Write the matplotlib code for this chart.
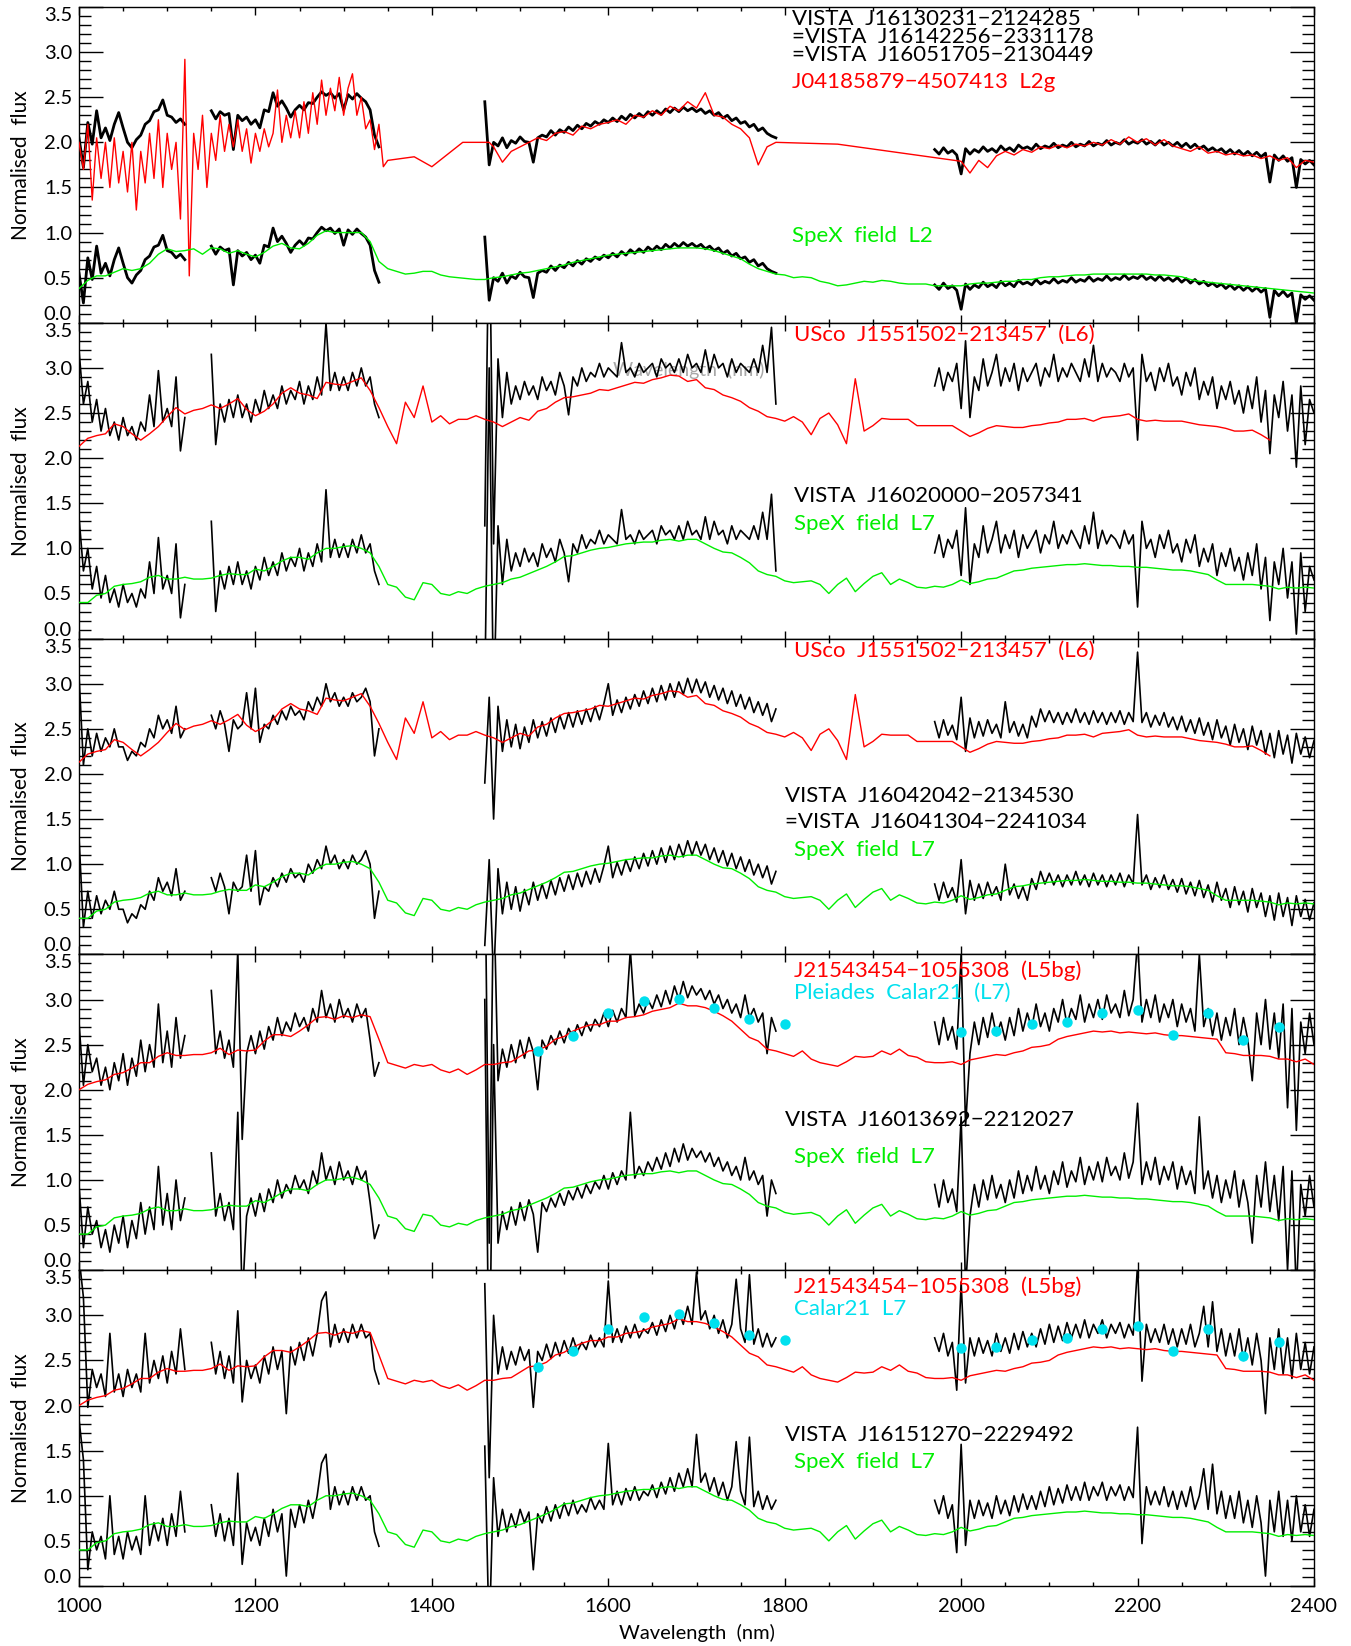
#!/usr/bin/env python3
"""
Near-IR spectra of VISTA L-dwarf candidates compared with field (SpeX)
and young (USco, Pleiades) templates. Five stacked panels; every VISTA
spectrum is drawn twice, once raw and once shifted up to sit on the
upper template.
"""

import numpy as np
import matplotlib.pyplot as plt
from matplotlib.ticker import MultipleLocator

plt.rcParams['font.family'] = ['Lato', 'DejaVu Sans']
plt.rcParams['font.weight'] = 400

RED = '#FF0000'
GREEN = '#00EE00'
CYAN = '#00E0EE'

# =============================================================================
# Data
# =============================================================================

# VISTA spectra (lower copy), 5 nm sampling, one list per band
BAND_STARTS = [1000, 1150, 1460, 1970]

vista1_j1 = [0.55, 0.22, 0.72, 0.48, 0.85, 0.55, 0.66, 0.52, 0.70, 0.83, 0.66, 0.50, 0.44,
             0.53, 0.58, 0.70, 0.74, 0.84, 0.86, 0.97, 0.80, 0.78, 0.72, 0.76, 0.70]
vista1_j2 = [0.85, 0.76, 0.84, 0.80, 0.82, 0.42, 0.80, 0.74, 0.78, 0.70,
             0.75, 0.66, 0.86, 0.84, 1.05, 0.90, 0.96, 0.88, 0.78, 0.86,
             0.91, 0.86, 0.94, 0.93, 1.00, 1.06, 1.02, 1.05, 0.99, 1.04,
             0.86, 1.03, 0.98, 1.04, 0.99, 0.95, 0.86, 0.58, 0.45]
vista1_h = [0.95, 0.25, 0.50, 0.46, 0.55, 0.44, 0.52, 0.49, 0.56, 0.51,
            0.50, 0.28, 0.55, 0.58, 0.56, 0.63, 0.58, 0.64, 0.61, 0.67,
            0.63, 0.69, 0.65, 0.71, 0.68, 0.73, 0.70, 0.75, 0.72, 0.77,
            0.73, 0.79, 0.75, 0.81, 0.77, 0.82, 0.78, 0.84, 0.80, 0.85,
            0.81, 0.87, 0.83, 0.88, 0.84, 0.89, 0.85, 0.88, 0.84, 0.87,
            0.82, 0.85, 0.80, 0.83, 0.77, 0.80, 0.74, 0.77, 0.71, 0.73,
            0.67, 0.70, 0.63, 0.66, 0.60, 0.57, 0.55]
vista1_k = [0.42, 0.37, 0.44, 0.38, 0.41, 0.36, 0.15, 0.43, 0.37, 0.42,
            0.39, 0.45, 0.40, 0.43, 0.39, 0.46, 0.41, 0.44, 0.40, 0.47,
            0.43, 0.45, 0.42, 0.48, 0.43, 0.46, 0.44, 0.49, 0.44, 0.47,
            0.45, 0.50, 0.45, 0.48, 0.46, 0.51, 0.46, 0.49, 0.47, 0.52,
            0.47, 0.50, 0.48, 0.53, 0.48, 0.51, 0.49, 0.53, 0.48, 0.51,
            0.47, 0.52, 0.47, 0.50, 0.46, 0.50, 0.45, 0.49, 0.44, 0.48,
            0.43, 0.46, 0.41, 0.44, 0.40, 0.43, 0.38, 0.42, 0.37, 0.41,
            0.36, 0.40, 0.35, 0.39, 0.34, 0.38, 0.06, 0.36, 0.30, 0.35,
            0.29, 0.33, 0.00, 0.31, 0.26, 0.30, 0.25]

vista2_j1 = [1.35, 0.75, 1.00, 0.55, 0.80, 0.45, 0.70, 0.40, 0.55, 0.35, 0.60, 0.40, 0.50,
             0.35, 0.55, 0.45, 0.85, 0.50, 1.12, 0.55, 0.70, 0.50, 1.05, 0.23, 0.60]
vista2_j2 = [1.30, 0.30, 0.75, 0.55, 0.80, 0.60, 0.85, 0.60, 0.75, 0.55,
             0.80, 0.65, 0.90, 0.70, 0.85, 0.70, 0.95, 0.75, 0.90, 0.80,
             1.00, 0.75, 0.95, 0.80, 1.05, 0.85, 1.65, 0.90, 1.10, 0.90,
             1.05, 0.90, 1.10, 0.95, 1.15, 0.95, 1.05, 0.75, 0.60]
vista2_h = [-0.60, 3.00, -0.80, 1.25, 0.60, 1.10, 0.75, 0.95, 0.80, 1.00,
            0.85, 0.95, 0.80, 1.05, 0.90, 1.00, 0.85, 1.10, 0.95, 0.63,
            1.05, 0.95, 1.15, 1.00, 1.10, 1.05, 1.20, 1.05, 1.15, 1.10,
            1.05, 1.43, 1.10, 1.15, 1.05, 1.20, 1.10, 1.15, 1.20, 1.05,
            1.25, 1.15, 1.20, 1.10, 1.25, 1.10, 1.30, 1.15, 1.20, 1.10,
            1.35, 1.10, 1.30, 1.15, 1.20, 1.05, 1.25, 1.10, 1.20, 1.15,
            1.10, 1.25, 1.10, 1.40, 1.10, 1.60, 0.75]
vista2_k = [0.95, 1.15, 0.90, 1.10, 1.00, 1.20, 0.70, 1.45, 0.60, 1.05,
            0.90, 1.25, 0.95, 1.10, 1.30, 0.95, 1.15, 1.00, 1.20, 0.90,
            1.15, 1.00, 1.10, 1.20, 0.95, 1.15, 1.05, 1.30, 1.00, 1.15,
            1.05, 1.20, 1.10, 1.00, 1.25, 1.05, 1.40, 1.00, 1.20, 1.05,
            1.15, 1.10, 1.00, 1.20, 1.05, 1.15, 0.35, 1.30, 1.00, 1.10,
            0.90, 1.15, 1.00, 1.20, 0.95, 1.05, 0.85, 1.10, 0.95, 1.15,
            0.80, 1.00, 0.85, 1.05, 0.70, 0.95, 0.80, 1.00, 0.75, 0.90,
            0.65, 0.95, 0.70, 1.05, 0.55, 0.90, 0.20, 0.85, 0.60, 1.00,
            0.45, 0.85, 0.05, 0.95, 0.30, 0.80, 0.65]

vista3_j1 = [1.30, 0.30, 0.70, 0.40, 0.65, 0.45, 0.60, 0.50, 0.70, 0.50, 0.50, 0.35, 0.45,
             0.40, 0.55, 0.50, 0.70, 0.60, 0.85, 0.70, 0.80, 0.65, 0.95, 0.60, 0.70]
vista3_j2 = [0.85, 0.70, 0.90, 0.75, 0.45, 0.80, 0.70, 0.75, 1.10, 0.70,
             1.15, 0.55, 0.75, 0.70, 0.85, 0.75, 0.90, 0.80, 0.95, 0.85,
             0.90, 0.80, 1.00, 0.90, 1.05, 0.95, 1.20, 1.00, 1.10, 0.95,
             1.05, 0.95, 1.10, 1.00, 1.05, 1.15, 1.00, 0.40, 0.70]
vista3_h = [0.10, 1.05, -0.30, 0.95, 0.45, 0.80, 0.50, 0.75, 0.48, 0.72,
            0.55, 0.80, 0.60, 0.78, 0.62, 0.82, 0.66, 0.85, 0.70, 0.88,
            0.72, 0.90, 0.75, 0.92, 0.78, 0.95, 0.80, 0.98, 1.20, 0.85,
            1.02, 0.88, 1.05, 0.92, 1.08, 0.95, 1.12, 0.98, 1.15, 1.00,
            1.18, 1.02, 1.20, 1.05, 1.22, 1.08, 1.26, 1.10, 1.25, 1.10,
            1.22, 1.05, 1.18, 1.02, 1.15, 0.98, 1.12, 0.95, 1.08, 0.92,
            1.05, 0.88, 1.00, 0.85, 0.98, 0.78, 0.92]
vista3_k = [0.78, 0.60, 0.80, 0.63, 0.74, 0.58, 1.05, 0.45, 0.82, 0.60,
            0.78, 0.62, 0.80, 0.65, 0.75, 0.60, 1.00, 0.66, 0.78, 0.62,
            0.75, 0.60, 0.84, 0.72, 0.92, 0.78, 0.90, 0.77, 0.88, 0.75,
            0.88, 0.77, 0.92, 0.77, 0.88, 0.75, 0.90, 0.77, 0.88, 0.75,
            0.88, 0.77, 0.90, 0.75, 0.88, 0.78, 1.55, 0.77, 0.88, 0.72,
            0.85, 0.74, 0.88, 0.72, 0.83, 0.69, 0.84, 0.67, 0.80, 0.65,
            0.82, 0.63, 0.77, 0.58, 0.80, 0.60, 0.73, 0.52, 0.75, 0.55,
            0.70, 0.47, 0.73, 0.52, 0.68, 0.42, 0.65, 0.38, 0.68, 0.42,
            0.63, 0.32, 0.65, 0.42, 0.61, 0.38, 0.57]

vista4_j1 = [0.95, 0.25, 0.70, 0.40, 0.55, 0.25, 0.45, 0.20, 0.50, 0.30, 0.60, 0.25, 0.55,
             0.35, 0.75, 0.40, 0.70, 0.45, 1.15, 0.50, 0.85, 0.45, 1.00, 0.55, 0.80]
vista4_j2 = [1.30, 0.60, 0.85, 0.55, 0.75, 0.45, 1.75, -0.35, 0.60, 0.80,
             0.60, 0.85, 0.65, 0.90, 0.75, 1.00, 0.80, 0.95, 0.85, 1.05,
             0.90, 1.00, 0.85, 1.10, 0.95, 1.30, 1.00, 1.15, 0.95, 1.20,
             1.00, 1.10, 0.95, 1.15, 1.00, 1.10, 0.75, 0.35, 0.50]
vista4_h = [3.00, -1.50, 2.50, 0.30, 0.65, 0.45, 0.70, 0.50, 0.75, 0.55,
            0.78, 0.62, 0.20, 0.75, 0.65, 0.80, 0.70, 0.85, 0.72, 0.88,
            0.78, 0.92, 0.80, 0.95, 0.85, 0.98, 0.90, 1.05, 0.90, 1.08,
            0.95, 1.10, 1.00, 1.75, 1.02, 1.15, 1.05, 1.20, 1.10, 1.25,
            1.12, 1.30, 1.15, 1.35, 1.20, 1.40, 1.22, 1.35, 1.25, 1.32,
            1.20, 1.30, 1.15, 1.25, 1.10, 1.20, 1.05, 1.15, 1.00, 1.25,
            1.00, 1.10, 0.95, 1.05, 0.60, 1.00, 0.85]
vista4_k = [0.95, 0.70, 1.00, 0.75, 0.90, 0.65, 1.70, -0.20, 0.60, 0.95,
            0.70, 1.00, 0.78, 1.05, 0.80, 0.95, 0.75, 1.00, 0.80, 1.10,
            0.85, 1.05, 0.88, 1.15, 0.90, 1.05, 0.85, 1.10, 0.95, 1.20,
            0.92, 1.10, 0.98, 1.25, 0.95, 1.15, 1.00, 1.20, 0.98, 1.25,
            1.05, 1.15, 1.00, 1.30, 1.02, 1.20, 1.85, 0.95, 1.20, 1.00,
            1.25, 0.95, 1.15, 1.00, 1.20, 0.90, 1.15, 0.95, 1.10, 0.85,
            1.70, 0.90, 1.10, 0.80, 1.05, 0.75, 1.00, 0.80, 1.10, 0.70,
            1.00, 0.75, 0.30, 1.05, 0.70, 1.20, 0.65, 1.05, 0.55, 1.15,
            0.00, 1.10, -0.25, 0.95, 0.60, 1.05, 0.70]

vista5_j1 = [1.85, 1.40, 0.18, 0.60, 0.40, 0.55, 0.30, 1.00, 0.35, 0.55, 0.30, 0.60, 0.40,
             0.55, 0.35, 1.00, 0.45, 0.70, 0.50, 0.75, 0.45, 0.80, 0.55, 1.05, 0.60]
vista5_j2 = [0.90, 0.55, 0.80, 0.50, 0.75, 0.45, 1.25, 0.24, 0.70, 0.50,
             0.65, 0.45, 0.75, 0.55, 0.85, 0.60, 0.80, 0.11, 0.85, 0.65,
             0.90, 0.70, 0.95, 0.75, 1.00, 1.36, 1.46, 0.85, 1.10, 0.90,
             1.05, 0.90, 1.10, 0.95, 1.10, 0.95, 1.00, 0.60, 0.44]
vista5_h = [1.55, -0.60, 1.20, 0.55, 0.85, 0.60, 0.80, 0.65, 0.85, 0.70,
            0.82, 0.18, 0.80, 0.70, 0.88, 0.72, 0.90, 0.75, 0.92, 0.78,
            0.95, 0.80, 0.90, 0.82, 0.98, 0.85, 0.95, 0.85, 1.58, 0.90,
            1.05, 0.90, 1.08, 0.95, 1.10, 0.95, 1.05, 1.00, 1.12, 0.98,
            1.15, 1.02, 1.20, 1.05, 1.25, 1.10, 1.30, 1.10, 1.68, 1.15,
            1.25, 1.05, 1.20, 1.00, 1.15, 0.95, 1.10, 1.60, 1.05, 0.90,
            1.65, 0.88, 1.05, 0.85, 1.00, 0.85, 0.95]
vista5_k = [0.95, 0.80, 1.00, 0.75, 0.90, 0.37, 1.57, 0.45, 0.95, 0.75,
            0.95, 0.78, 0.92, 0.75, 1.00, 0.80, 0.95, 0.78, 1.00, 0.82,
            1.02, 0.85, 1.00, 0.85, 1.05, 0.88, 1.10, 0.90, 1.08, 0.92,
            1.12, 0.95, 1.10, 0.95, 1.15, 0.95, 1.10, 1.00, 1.15, 0.95,
            1.10, 1.00, 1.12, 0.95, 1.10, 0.98, 1.76, 0.47, 1.10, 0.90,
            1.05, 0.90, 1.10, 0.88, 1.05, 0.85, 1.05, 0.88, 1.10, 0.85,
            1.00, 1.30, 0.85, 1.35, 0.80, 1.05, 0.75, 1.00, 0.75, 1.05,
            0.70, 0.95, 0.65, 1.00, 0.70, 0.11, 0.95, 0.60, 1.05, 0.55,
            0.95, 0.50, 1.00, 0.60, 0.90, 0.55, 0.85]

# Vertical shift of the upper copy of each VISTA spectrum
vista_offsets = [1.5, 1.85, 1.8, 1.8, 1.8]

# Templates on a 10 nm grid starting at 1000 nm
spex_l2 = [0.38, 0.47, 0.52, 0.52, 0.56, 0.60, 0.58, 0.60, 0.66, 0.76, 0.82, 0.79, 0.80, 0.82,
           0.76, 0.83, 0.82, 0.77, 0.80, 0.76, 0.73, 0.78, 0.85, 0.88, 0.83, 0.82, 0.88, 0.97,
           1.02, 1.00, 1.00, 1.00, 1.00, 0.90, 0.68, 0.60, 0.57, 0.54, 0.55, 0.57, 0.57, 0.53,
           0.51, 0.50, 0.49, 0.48, 0.48, 0.50, 0.51, 0.53, 0.55, 0.56, 0.58, 0.60, 0.62, 0.64,
           0.67, 0.69, 0.71, 0.73, 0.75, 0.76, 0.77, 0.78, 0.79, 0.80, 0.81, 0.82, 0.83, 0.83,
           0.83, 0.82, 0.80, 0.77, 0.74, 0.71, 0.65, 0.60, 0.57, 0.54, 0.53, 0.50, 0.51, 0.50,
           0.46, 0.44, 0.41, 0.42, 0.44, 0.46, 0.45, 0.47, 0.46, 0.44, 0.43, 0.43, 0.43, 0.41,
           0.41, 0.41, 0.41, 0.43, 0.44, 0.44, 0.45, 0.46, 0.46, 0.48, 0.48, 0.50, 0.51, 0.51,
           0.52, 0.53, 0.53, 0.54, 0.54, 0.54, 0.54, 0.54, 0.54, 0.54, 0.53, 0.53, 0.52, 0.51,
           0.48, 0.46, 0.45, 0.44, 0.43, 0.42, 0.41, 0.40, 0.39, 0.38, 0.37, 0.36, 0.35, 0.34,
           0.33]

spex_l7 = [0.40, 0.40, 0.48, 0.50, 0.58, 0.60, 0.61, 0.63, 0.68, 0.70, 0.66, 0.66, 0.68, 0.66,
           0.66, 0.67, 0.70, 0.72, 0.71, 0.71, 0.77, 0.75, 0.80, 0.86, 0.90, 0.90, 0.88, 0.95,
           1.00, 1.00, 1.02, 1.03, 1.00, 0.95, 0.80, 0.60, 0.57, 0.46, 0.43, 0.62, 0.60, 0.50,
           0.48, 0.52, 0.50, 0.55, 0.58, 0.60, 0.62, 0.66, 0.68, 0.72, 0.76, 0.80, 0.85, 0.91,
           0.92, 0.95, 0.98, 1.00, 1.01, 1.03, 1.05, 1.06, 1.07, 1.07, 1.09, 1.10, 1.08, 1.10,
           1.10, 1.05, 1.00, 0.96, 0.95, 0.90, 0.84, 0.75, 0.71, 0.69, 0.64, 0.62, 0.63, 0.64,
           0.60, 0.50, 0.60, 0.67, 0.52, 0.61, 0.69, 0.73, 0.60, 0.66, 0.62, 0.57, 0.56, 0.58,
           0.57, 0.60, 0.65, 0.61, 0.63, 0.66, 0.67, 0.71, 0.75, 0.76, 0.78, 0.79, 0.80, 0.81,
           0.82, 0.82, 0.83, 0.82, 0.81, 0.81, 0.80, 0.80, 0.79, 0.79, 0.78, 0.77, 0.76, 0.76,
           0.75, 0.73, 0.71, 0.65, 0.60, 0.60, 0.60, 0.60, 0.59, 0.58, 0.55, 0.57, 0.56, 0.57,
           0.56]

usco_l6 = [2.13, 2.22, 2.25, 2.27, 2.38, 2.35, 2.27, 2.20, 2.27, 2.35, 2.46, 2.56, 2.49, 2.53,
           2.55, 2.59, 2.55, 2.60, 2.66, 2.54, 2.47, 2.52, 2.60, 2.72, 2.78, 2.72, 2.70, 2.66,
           2.84, 2.82, 2.81, 2.85, 2.89, 2.75, 2.56, 2.35, 2.16, 2.62, 2.45, 2.80, 2.40, 2.47,
           2.38, 2.43, 2.43, 2.47, 2.43, 2.40, 2.35, 2.40, 2.45, 2.42, 2.52, 2.55, 2.62, 2.67,
           2.68, 2.70, 2.72, 2.76, 2.75, 2.78, 2.81, 2.84, 2.83, 2.87, 2.89, 2.92, 2.91, 2.85,
           2.87, 2.78, 2.76, 2.70, 2.67, 2.63, 2.56, 2.52, 2.46, 2.44, 2.41, 2.46, 2.40, 2.26,
           2.44, 2.50, 2.37, 2.16, 2.88, 2.30, 2.36, 2.44, 2.43, 2.43, 2.43, 2.36, 2.36, 2.36,
           2.36, 2.36, 2.30, 2.24, 2.28, 2.33, 2.36, 2.35, 2.34, 2.34, 2.36, 2.37, 2.39, 2.40,
           2.43, 2.43, 2.44, 2.41, 2.45, 2.46, 2.47, 2.49, 2.43, 2.41, 2.42, 2.41, 2.41, 2.41,
           2.39, 2.37, 2.36, 2.35, 2.33, 2.30, 2.30, 2.31, 2.26, 2.20]

j2154_l5bg = [2.00, 2.06, 2.09, 2.11, 2.17, 2.19, 2.24, 2.30, 2.30, 2.37, 2.41, 2.38, 2.38, 2.39,
              2.39, 2.41, 2.46, 2.39, 2.44, 2.43, 2.44, 2.54, 2.61, 2.61, 2.59, 2.65, 2.72, 2.80,
              2.81, 2.78, 2.82, 2.80, 2.83, 2.81, 2.56, 2.30, 2.27, 2.24, 2.28, 2.26, 2.28, 2.22,
              2.19, 2.23, 2.17, 2.22, 2.28, 2.28, 2.30, 2.31, 2.37, 2.43, 2.44, 2.48, 2.56, 2.59,
              2.65, 2.69, 2.72, 2.72, 2.76, 2.76, 2.80, 2.81, 2.83, 2.87, 2.89, 2.91, 2.96, 2.93,
              2.93, 2.91, 2.87, 2.82, 2.76, 2.67, 2.58, 2.54, 2.45, 2.43, 2.40, 2.37, 2.43, 2.34,
              2.30, 2.28, 2.26, 2.31, 2.37, 2.36, 2.37, 2.43, 2.39, 2.45, 2.38, 2.36, 2.31, 2.30,
              2.30, 2.31, 2.28, 2.33, 2.35, 2.37, 2.39, 2.38, 2.41, 2.43, 2.47, 2.48, 2.50, 2.56,
              2.59, 2.61, 2.63, 2.65, 2.64, 2.65, 2.63, 2.64, 2.63, 2.62, 2.63, 2.61, 2.60, 2.60,
              2.59, 2.58, 2.57, 2.56, 2.41, 2.40, 2.38, 2.38, 2.38, 2.37, 2.34, 2.34, 2.31, 2.34,
              2.28]

# J04185879-4507413 (L2g): J band at 5 nm, H and K at 10 nm, straight joins in the gaps
j0418_j = [2.00, 1.70, 2.20, 1.36, 2.05, 1.60, 2.00, 1.50, 2.05, 1.55,
           1.90, 1.45, 2.00, 1.25, 1.90, 1.55, 2.10, 1.60, 2.25, 1.50,
           2.10, 1.70, 2.00, 1.15, 2.92, 0.52, 2.10, 1.70, 2.30, 1.50,
           2.10, 1.80, 2.30, 1.90, 2.20, 1.95, 2.25, 1.90, 2.15, 1.77,
           2.10, 1.90, 2.15, 1.95, 2.10, 2.58, 2.00, 2.30, 2.05, 2.35,
           2.05, 2.45, 2.10, 2.55, 2.20, 2.69, 2.30, 2.60, 2.35, 2.72,
           2.30, 2.60, 2.76, 2.30, 2.50, 2.15, 2.25, 1.92, 2.20, 1.73]
j0418_gap1_wl = [1350, 1380, 1400, 1435, 1465]
j0418_gap1 = [1.80, 1.84, 1.73, 2.00, 2.00]
j0418_h = [1.95, 1.78, 1.90, 1.95, 2.00, 2.05, 2.02, 2.10, 2.12, 2.08,
           2.18, 2.15, 2.20, 2.22, 2.25, 2.20, 2.30, 2.28, 2.35, 2.30,
           2.40, 2.35, 2.45, 2.38, 2.55, 2.30, 2.28, 2.20, 2.15, 2.05,
           1.75, 1.95, 2.00]
j0418_gap2_wl = [1860, 2000]
j0418_gap2 = [1.98, 1.79]
j0418_k = [1.66, 1.80, 1.72, 1.85, 1.90, 1.86, 1.92, 1.89, 1.95, 1.93,
           1.97, 1.94, 1.98, 1.96, 2.00, 1.97, 2.03, 1.98, 2.06, 2.00,
           2.04, 1.97, 2.03, 1.96, 1.93, 1.90, 1.95, 1.88, 1.90, 1.86,
           1.88, 1.85, 1.86, 1.82, 1.85, 1.80, 1.83, 1.72, 1.80, 1.78]

# Pleiades Calar21 (L7) points
calar21_wl = [1520, 1560, 1600, 1640, 1680, 1720, 1760, 1800,
              2000, 2040, 2080, 2120, 2160, 2200, 2240, 2280, 2320, 2360]
calar21_flux = [2.43, 2.60, 2.85, 2.98, 3.01, 2.91, 2.78, 2.73,
                2.64, 2.65, 2.73, 2.75, 2.85, 2.88, 2.61, 2.85, 2.55, 2.70]

# Labels: (wavelength, flux, text, colour[, line spacing])
labels_1 = [(1808, 3.17, 'VISTA  J16130231\u22122124285\n'
                         '=VISTA  J16142256\u22122331178\n'
                         '=VISTA  J16051705\u22122130449', 'black', 0.88),
            (1808, 2.67, 'J04185879\u22124507413  L2g', RED),
            (1808, 0.96, 'SpeX  field  L2', GREEN)]
labels_2 = [(1810, 3.37, 'USco  J1551502\u2212213457  (L6)', RED),
            (1810, 1.58, 'VISTA  J16020000\u22122057341', 'black'),
            (1810, 1.27, 'SpeX  field  L7', GREEN)]
labels_3 = [(1810, 3.36, 'USco  J1551502\u2212213457  (L6)', RED),
            (1800, 1.76, 'VISTA  J16042042\u22122134530', 'black'),
            (1800, 1.47, '=VISTA  J16041304\u22122241034', 'black'),
            (1810, 1.16, 'SpeX  field  L7', GREEN)]
labels_4 = [(1810, 3.32, 'J21543454\u22121055308  (L5bg)', RED),
            (1810, 3.07, 'Pleiades  Calar21  (L7)', CYAN),
            (1800, 1.67, 'VISTA  J16013692\u22122212027', 'black'),
            (1810, 1.26, 'SpeX  field  L7', GREEN)]
labels_5 = [(1810, 3.32, 'J21543454\u22121055308  (L5bg)', RED),
            (1810, 3.07, 'Calar21  L7', CYAN),
            (1800, 1.67, 'VISTA  J16151270\u22122229492', 'black'),
            (1810, 1.37, 'SpeX  field  L7', GREEN)]

# =============================================================================
# Helpers
# =============================================================================


def vista_curve(bands, step=5):
    """Join the band pieces, leaving gaps (NaN) between them."""
    xs, ys = [], []
    for start, vals in zip(BAND_STARTS, bands):
        xs += [start + step * np.arange(len(vals)), [np.nan]]
        ys += [np.asarray(vals, float), [np.nan]]
    return np.concatenate(xs), np.concatenate(ys)


def grid(vals, start=1000, step=10):
    return start + step * np.arange(len(vals)), np.asarray(vals, float)


j0418_parts = [grid(j0418_j, 1000, 5), (np.array(j0418_gap1_wl), np.array(j0418_gap1)),
               grid(j0418_h, 1470, 10), (np.array(j0418_gap2_wl), np.array(j0418_gap2)),
               grid(j0418_k, 2010, 10)]
j0418 = (np.concatenate([p[0] for p in j0418_parts]),
         np.concatenate([p[1] for p in j0418_parts]))

panels = [
    dict(vista=[vista1_j1, vista1_j2, vista1_h, vista1_k], upper=j0418, lower=grid(spex_l2),
         labels=labels_1, calar=False, lw=2.0),
    dict(vista=[vista2_j1, vista2_j2, vista2_h, vista2_k], upper=grid(usco_l6), lower=grid(spex_l7),
         labels=labels_2, calar=False, lw=1.2),
    dict(vista=[vista3_j1, vista3_j2, vista3_h, vista3_k], upper=grid(usco_l6), lower=grid(spex_l7),
         labels=labels_3, calar=False, lw=1.2),
    dict(vista=[vista4_j1, vista4_j2, vista4_h, vista4_k], upper=grid(j2154_l5bg), lower=grid(spex_l7),
         labels=labels_4, calar=True, lw=1.2),
    dict(vista=[vista5_j1, vista5_j2, vista5_h, vista5_k], upper=grid(j2154_l5bg), lower=grid(spex_l7),
         labels=labels_5, calar=True, lw=1.2),
]

# =============================================================================
# Figure
# =============================================================================

W, H = 1351, 1646
fig = plt.figure(figsize=(W / 100, H / 100), dpi=100)

left, right, top, bottom = 79, 1314, 7, 1586
panel_h = (bottom - top) / len(panels)
ytick_vals = np.arange(0, 3.51, 0.5)

for i, p in enumerate(panels):
    y0 = top + i * panel_h
    ax = fig.add_axes([left / W, 1 - (y0 + panel_h) / H, (right - left) / W, panel_h / H])

    wl, flux = vista_curve(p['vista'])
    off = vista_offsets[i]
    ax.plot(wl, flux + off, color='black', lw=p['lw'], zorder=2)
    ax.plot(wl, flux, color='black', lw=p['lw'], zorder=2)

    ax.plot(*p['upper'], color=RED, lw=1.0, zorder=3)
    ax.plot(*p['lower'], color=GREEN, lw=1.0, zorder=3)

    if p['calar']:
        ax.plot(calar21_wl, calar21_flux, 'o', color=CYAN, ms=7.5, mec='none', zorder=4)

    for lab in p['labels']:
        x, y, s, c = lab[:4]
        spacing = lab[4] if len(lab) > 4 else 1.2
        ax.text(x, y, s, color=c, fontsize=16, ha='left', va='center',
                linespacing=spacing, zorder=5)

    if i == 1:
        # faint leftover axis title visible behind the spectrum
        ax.text(1605, 2.98, 'Wavelength  (nm)', color='#A8A8A8', fontsize=14,
                ha='left', va='center', zorder=1)

    ax.set_xlim(1000, 2400)
    ax.set_ylim(0, 3.5)
    ax.xaxis.set_major_locator(MultipleLocator(200))
    ax.xaxis.set_minor_locator(MultipleLocator(50))
    ax.set_yticks(ytick_vals)
    ax.set_yticklabels([f'{v:.1f}' for v in ytick_vals])
    ax.yaxis.set_minor_locator(MultipleLocator(0.1))
    ylbls = ax.get_yticklabels()
    ylbls[0].set_va('bottom')
    ylbls[-1].set_va('top')

    ax.tick_params(which='both', direction='in', top=True, right=True, width=1.0,
                   labelsize=14.5)
    ax.tick_params(axis='y', which='major', length=17, pad=5)
    ax.tick_params(axis='y', which='minor', length=8.5)
    ax.tick_params(axis='x', which='major', length=5.5, pad=9)
    ax.tick_params(axis='x', which='minor', length=3)
    if i < len(panels) - 1:
        ax.tick_params(axis='x', labelbottom=False)
    for sp in ax.spines.values():
        sp.set_linewidth(1.0)

    ax.set_ylabel('Normalised  flux', fontsize=15)
    ax.yaxis.set_label_coords(-0.039, 0.5)

fig.text((left + right) / 2 / W, 1 - 1633 / H, 'Wavelength  (nm)', fontsize=14.5,
         ha='center', va='center')

fig.savefig('out.png', dpi=100)
print('saved out.png')
